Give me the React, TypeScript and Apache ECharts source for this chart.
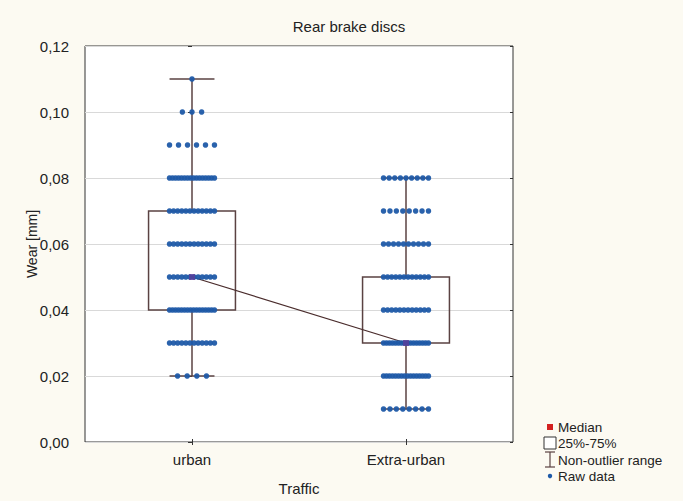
import React, { useEffect, useRef } from "react";
import * as echarts from "echarts";

const categories = ["urban", "Extra-urban"];
// [min, Q1, median, Q3, max] per category
const boxStats = [
  [0.02, 0.04, 0.05, 0.07, 0.11],
  [0.01, 0.03, 0.03, 0.05, 0.08],
];
const medians = [0.05, 0.03];
const yTicks = [0, 0.02, 0.04, 0.06, 0.08, 0.1, 0.12];

// raw data: observed wear levels and how many points sit at each level
const urbanLevels = [0.02, 0.03, 0.04, 0.05, 0.06, 0.07, 0.08, 0.09, 0.1, 0.11];
const urbanCounts = [4, 12, 16, 12, 12, 12, 16, 6, 3, 1];
const extraLevels = [0.01, 0.02, 0.03, 0.04, 0.05, 0.06, 0.07, 0.08];
const extraCounts = [8, 16, 16, 12, 12, 10, 8, 9];

const FONT = "Liberation Sans, Arial, sans-serif";

function buildRaw(catIndex: number, levels: number[], counts: number[]) {
  const pts: number[][] = [];
  levels.forEach((lv, li) => {
    const n = counts[li];
    const step = n > 1 ? Math.min(0.21 / (n - 1), 0.045) : 0;
    for (let i = 0; i < n; i++) {
      const off = (i - (n - 1) / 2) * step;
      pts.push([catIndex + off, lv]);
    }
  });
  return pts;
}

export default function App() {
  const ref = useRef<HTMLDivElement>(null);
  useEffect(() => {
    if (!ref.current) return;
    const chart = echarts.init(ref.current, undefined, { renderer: "svg" });
    const raw = [
      ...buildRaw(0, urbanLevels, urbanCounts),
      ...buildRaw(1, extraLevels, extraCounts),
    ];
    const boxColor = "#5a4242";
    const lx = 550;
    const legendText = (text: string, y: number) => ({
      type: "text",
      x: lx + 8,
      y,
      style: { text, fontSize: 13.5, fill: "#222", fontFamily: FONT, verticalAlign: "middle" },
    });
    const option: any = {
      animation: false,
      backgroundColor: "#fcfaf2",
      textStyle: { fontFamily: FONT },
      title: {
        text: "Rear brake discs",
        left: 344,
        textAlign: "center",
        top: 14,
        textStyle: { fontSize: 15, fontWeight: "normal", color: "#222", fontFamily: FONT },
      },
      grid: {
        left: 85,
        right: 170,
        top: 46,
        bottom: 59,
        show: true,
        backgroundColor: "#ffffff",
        borderColor: "#333",
        borderWidth: 1,
      },
      xAxis: [
        {
          type: "category",
          data: categories,
          name: "Traffic",
          nameLocation: "middle",
          nameGap: 39,
          nameMoveOverlap: false,
          nameTextStyle: { fontSize: 15, color: "#222", fontFamily: FONT },
          axisLine: { show: false },
          axisTick: { show: true, inside: true, alignWithLabel: true, length: 3, lineStyle: { color: "#333" } },
          axisLabel: { fontSize: 15, color: "#222", margin: 10, fontFamily: FONT },
          splitLine: { show: false },
        },
        {
          type: "category",
          data: categories,
          position: "top",
          axisLine: { show: false },
          axisTick: { show: true, inside: true, alignWithLabel: true, length: 3, lineStyle: { color: "#333" } },
          axisLabel: { show: false },
        },
        {
          type: "value",
          min: -0.5,
          max: 1.5,
          show: false,
        },
      ],
      yAxis: [
        {
          type: "value",
          min: 0,
          max: 0.12,
          interval: 0.02,
          name: "Wear [mm]",
          nameLocation: "middle",
          nameGap: 46,
          nameMoveOverlap: false,
          nameTextStyle: { fontSize: 14, color: "#222", fontFamily: FONT },
          axisLine: { show: false },
          axisTick: { show: true, length: 4, lineStyle: { color: "#333" } },
          axisLabel: {
            fontSize: 15,
            color: "#222",
            margin: 16,
            fontFamily: FONT,
            formatter: (v: number) => {
              const t = yTicks.find((k) => Math.abs(k - v) < 1e-9);
              return (t !== undefined ? t : v).toFixed(2).replace(".", ",");
            },
          },
          splitLine: { show: true, lineStyle: { color: "#d9d9d9", width: 1 } },
        },
        {
          type: "value",
          min: 0,
          max: 0.12,
          interval: 0.02,
          position: "right",
          axisLine: { show: false },
          axisTick: { show: true, inside: true, length: 3, lineStyle: { color: "#333" } },
          axisLabel: { show: false },
          splitLine: { show: false },
        },
      ],
      series: [
        {
          type: "custom",
          xAxisIndex: 0,
          yAxisIndex: 0,
          z: 2,
          data: boxStats.map((s, i) => [i, ...s]),
          renderItem: (params: any, api: any) => {
            const idx = api.value(0);
            const mn = api.coord([idx, api.value(1)]);
            const q1 = api.coord([idx, api.value(2)]);
            const q3 = api.coord([idx, api.value(4)]);
            const mx = api.coord([idx, api.value(5)]);
            const band = api.size([1, 0])[0];
            const bw = band * 0.406;
            const cw = band * 0.21;
            const cx = mn[0];
            const ls = { stroke: boxColor, lineWidth: 1.5, fill: "none" };
            return {
              type: "group",
              children: [
                { type: "line", shape: { x1: cx, y1: mx[1], x2: cx, y2: q3[1] }, style: ls },
                { type: "line", shape: { x1: cx, y1: q1[1], x2: cx, y2: mn[1] }, style: ls },
                { type: "line", shape: { x1: cx - cw / 2, y1: mx[1], x2: cx + cw / 2, y2: mx[1] }, style: ls },
                { type: "line", shape: { x1: cx - cw / 2, y1: mn[1], x2: cx + cw / 2, y2: mn[1] }, style: ls },
                {
                  type: "rect",
                  shape: { x: cx - bw / 2, y: q3[1], width: bw, height: q1[1] - q3[1] },
                  style: { stroke: boxColor, lineWidth: 1.5, fill: "rgba(255,255,255,0)" },
                },
              ],
            };
          },
        },
        {
          type: "line",
          xAxisIndex: 0,
          yAxisIndex: 0,
          z: 3,
          data: medians,
          symbol: "none",
          lineStyle: { color: "#4a2c2c", width: 1.2 },
        },
        {
          type: "scatter",
          xAxisIndex: 2,
          yAxisIndex: 0,
          z: 4,
          data: raw,
          symbol: "circle",
          symbolSize: 5.5,
          itemStyle: { color: "#1f5aa8", opacity: 0.95 },
        },
        {
          type: "scatter",
          xAxisIndex: 0,
          yAxisIndex: 0,
          z: 5,
          data: medians,
          symbol: "rect",
          symbolSize: 6,
          itemStyle: { color: "#5a3d9a" },
        },
      ],
      graphic: [
        { type: "rect", shape: { x: lx - 3, y: 424, width: 6, height: 6 }, style: { fill: "#d32020" } },
        legendText("Median", 427),
        { type: "rect", shape: { x: lx - 6, y: 437, width: 12, height: 12 }, style: { fill: "#fff", stroke: "#333", lineWidth: 1 } },
        legendText("25%-75%", 443),
        { type: "polyline", shape: { points: [[lx - 5, 452], [lx + 5, 452]] }, style: { stroke: "#5a4242", lineWidth: 1.2 } },
        { type: "polyline", shape: { points: [[lx, 452], [lx, 467]] }, style: { stroke: "#5a4242", lineWidth: 1.2 } },
        { type: "polyline", shape: { points: [[lx - 5, 467], [lx + 5, 467]] }, style: { stroke: "#5a4242", lineWidth: 1.2 } },
        legendText("Non-outlier range", 460),
        { type: "circle", shape: { cx: lx, cy: 476, r: 2.2 }, style: { fill: "#1f5aa8" } },
        legendText("Raw data", 476),
      ],
    };
    chart.setOption(option);
    return () => chart.dispose();
  }, []);
  return (
    <div
      ref={ref}
      style={{ position: "fixed", left: 0, top: 0, width: 683, height: 501 }}
    />
  );
}
